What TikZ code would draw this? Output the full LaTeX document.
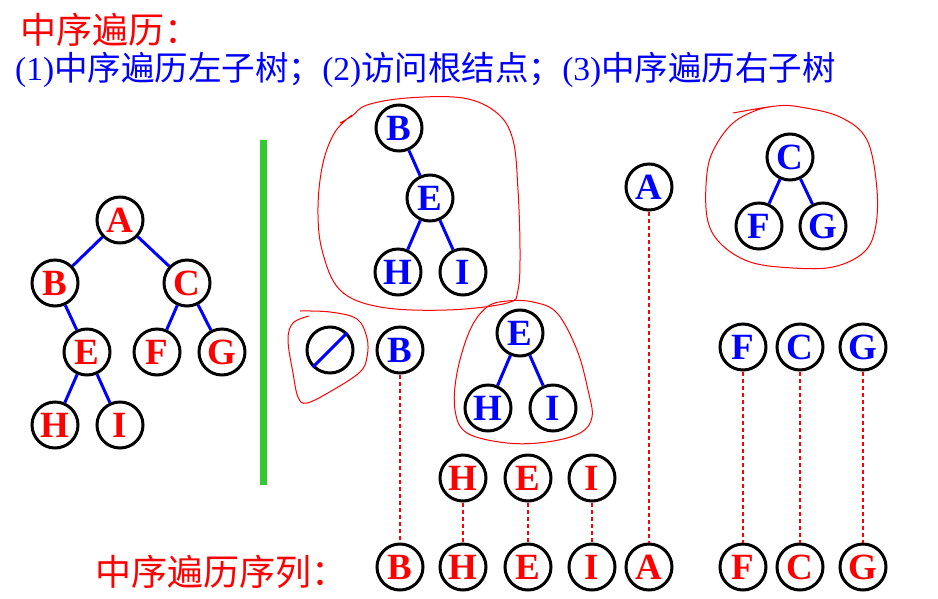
\documentclass[tikz,border=0pt]{standalone}
\usepackage{fontspec}
\setmainfont{Liberation Serif}
\newfontfamily\cjk{Noto Sans CJK SC}
\definecolor{bargreen}{RGB}{50,200,50}
\tikzset{
  nd/.style={circle, draw=black, line width=3pt, minimum size=46pt, inner sep=0pt,
    font=\bfseries\fontsize{37}{37}\selectfont},
  rn/.style={nd, text=red},
  bn/.style={nd, text=blue},
  br/.style={blue, line width=3pt},
  guide/.style={red, line width=1.2pt, dash pattern=on 4pt off 3pt},
  hand/.style={red, line width=1pt},
  txt/.style={anchor=west, inner sep=0pt},
}
\begin{document}
\begin{tikzpicture}[x=1pt, y=-1pt]
 \useasboundingbox (0,0) rectangle (938,598);
 % Titel
 \node[txt, text=red, font=\cjk\fontsize{36}{36}\selectfont] (title) at (20,30) {中序遍历：};
 \node[txt, text=blue, font=\fontsize{33.5}{33.5}\selectfont] (rule) at (15,70)
   {(1){\cjk 中序遍历左子树；}(2){\cjk 访问根结点；}(3){\cjk 中序遍历右子树}};
 % Trennlinie
 \draw[bargreen, line width=7pt] (263,140) -- (263,485);
 % Baum links
 \node[rn] (a) at (120,220) {A};
 \node[rn] (b) at (55,283) {B};
 \node[rn] (c) at (187,283) {C};
 \node[rn] (e) at (87,352) {E};
 \node[rn] (f) at (157,352) {F};
 \node[rn] (g) at (222,352) {G};
 \node[rn] (h) at (55,425) {H};
 \node[rn] (i) at (120,425) {I};
 \draw[br] (a) -- (b) (a) -- (c) (b) -- (e) (c) -- (f) (c) -- (g) (e) -- (h) (e) -- (i);
 % linker Teilbaum
 \node[bn] (ub) at (399,128) {B};
 \node[bn] (ue) at (430,198) {E};
 \node[bn] (uh) at (398,272) {H};
 \node[bn] (ui) at (463,272) {I};
 \draw[br] (ub) -- (ue) (ue) -- (uh) (ue) -- (ui);
 \draw[hand] plot[smooth, tension=0.6] coordinates {(340,123) (352,116) (367,105) (407,98) (463,98) (497,113) (513,140) (518,190) (520,250) (518,290) (507,303) (447,310) (380,307) (340,290) (322,250) (318,207) (323,163) (335,132) (352,115)};
 % Wurzel und rechter Teilbaum
 \node[bn] (ua) at (649,187) {A};
 \node[bn] (uc) at (790,157) {C};
 \node[bn] (uf) at (759,226) {F};
 \node[bn] (ug) at (823,226) {G};
 \draw[br] (uc) -- (uf) (uc) -- (ug);
 \draw[hand] plot[smooth, tension=0.6] coordinates {(733,113) (776,106) (800,107) (840,117) (867,140) (877,190) (875,230) (863,253) (833,267) (793,268) (750,262) (720,243) (707,217) (707,173) (715,147) (733,123) (757,110) (776,106)};
 % zweite Ebene
 \node[nd] (nul) at (330,350) {};
 \draw[br] (nul.225) -- (nul.45);
 \draw[hand] plot[smooth, tension=0.6] coordinates {(300,311) (330,312) (357,319) (367,338) (367,357) (360,372) (333,390) (307,403) (298,397) (293,373) (288,340) (293,323) (309,316)};
 \node[bn] (lb) at (400,350) {B};
 \node[bn] (le) at (520,333) {E};
 \node[bn] (lh) at (488,408) {H};
 \node[bn] (li) at (553,408) {I};
 \draw[br] (le) -- (lh) (le) -- (li);
 \draw[hand] plot[smooth cycle, tension=0.6] coordinates {(507,301) (487,307) (470,330) (457,373) (455,410) (467,433) (507,443) (547,442) (580,433) (592,417) (588,390) (577,350) (557,313) (533,302)};
 \node[bn] (lf) at (743,347) {F};
 \node[bn] (lc) at (800,347) {C};
 \node[bn] (lg) at (863,347) {G};
 % dritte Ebene
 \node[rn] (mh) at (463,478) {H};
 \node[rn] (me) at (528,478) {E};
 \node[rn] (mi) at (592,478) {I};
 % Folge
 \node[txt, text=red, font=\cjk\fontsize{36}{36}\selectfont] (seq) at (95,572) {中序遍历序列：};
 \node[rn] (sb) at (400,567) {B};
 \node[rn] (sh) at (463,567) {H};
 \node[rn] (se) at (528,567) {E};
 \node[rn] (si) at (592,567) {I};
 \node[rn] (sa) at (649,567) {A};
 \node[rn] (sf) at (743,567) {F};
 \node[rn] (sc) at (800,567) {C};
 \node[rn] (sg) at (863,567) {G};
 \draw[guide] (lb) -- (sb) (mh) -- (sh) (me) -- (se) (mi) -- (si) (ua) -- (sa)
   (lf) -- (sf) (lc) -- (sc) (lg) -- (sg);
\end{tikzpicture}
\end{document}
